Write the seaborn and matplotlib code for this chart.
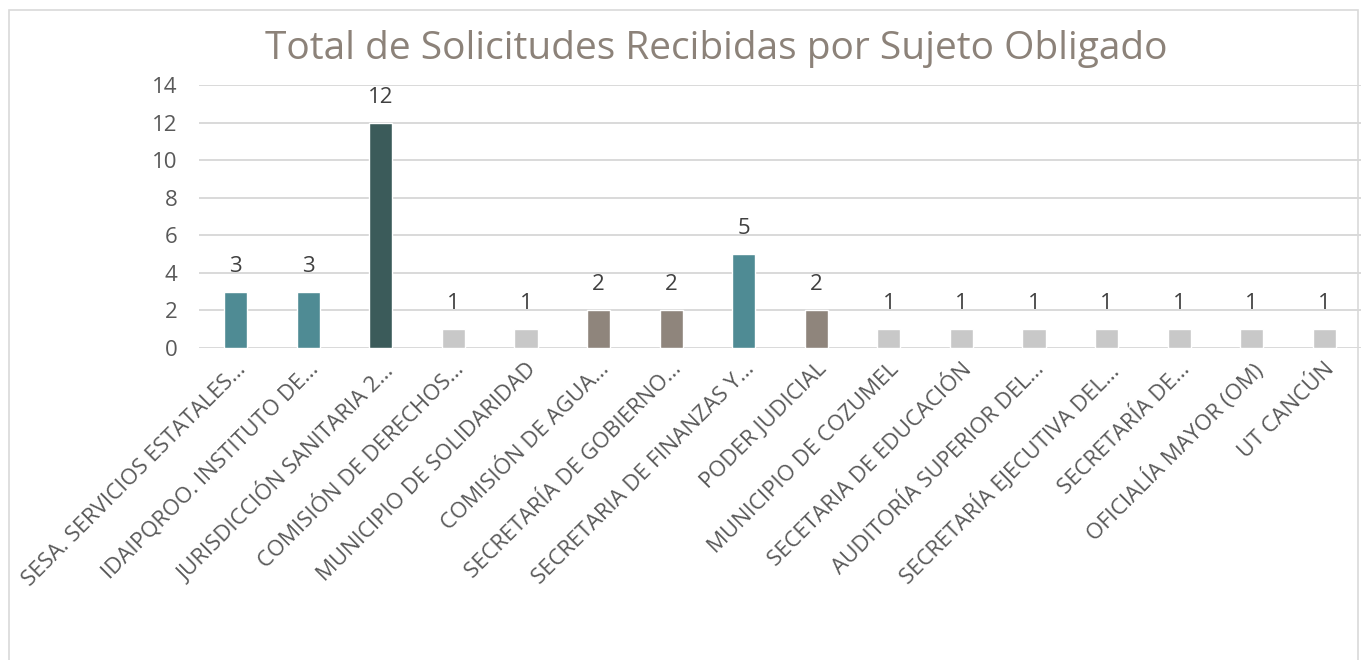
import numpy as np
import pandas as pd
import seaborn as sns
import matplotlib
matplotlib.use("Agg")
import matplotlib.pyplot as plt
from matplotlib.patches import Rectangle

sujetos = [
    "SESA. SERVICIOS ESTATALES…",
    "IDAIPQROO. INSTITUTO DE…",
    "JURISDICCIÓN SANITARIA 2…",
    "COMISIÓN DE DERECHOS…",
    "MUNICIPIO DE SOLIDARIDAD",
    "COMISIÓN DE AGUA…",
    "SECRETARÍA DE GOBIERNO…",
    "SECRETARIA DE FINANZAS Y…",
    "PODER JUDICIAL",
    "MUNICIPIO DE COZUMEL",
    "SECETARIA DE EDUCACIÓN",
    "AUDITORÍA SUPERIOR DEL…",
    "SECRETARÍA EJECUTIVA DEL…",
    "SECRETARÍA DE…",
    "OFICIALÍA MAYOR (OM)",
    "UT CANCÚN",
]
solicitudes = [3, 3, 12, 1, 1, 2, 2, 5, 2, 1, 1, 1, 1, 1, 1, 1]
colores = ["#4F8B94", "#4F8B94", "#3B5B5A", "#C8C8C8", "#C8C8C8", "#8F857C",
           "#8F857C", "#4F8B94", "#8F857C", "#C8C8C8", "#C8C8C8", "#C8C8C8",
           "#C8C8C8", "#C8C8C8", "#C8C8C8", "#C8C8C8"]

df = pd.DataFrame({"sujeto": sujetos, "total": solicitudes})

sns.set_style("white")
plt.rcParams["font.family"] = ["Open Sans", "DejaVu Sans"]

fig = plt.figure(figsize=(13.66, 6.6), dpi=100)
ax = fig.add_axes([0.146, 0.473, 0.85, 0.398])

sns.barplot(data=df, x="sujeto", y="total", hue="sujeto", palette=colores,
            legend=False, width=0.32, ax=ax, saturation=1)

for i, v in enumerate(solicitudes):
    ax.text(i, v + 0.8, str(v), ha="center", va="bottom", fontsize=16, color="#404040")

ax.set_ylim(0, 14)
ax.set_xlim(-0.5, len(sujetos) - 0.5)
ax.set_yticks(range(0, 15, 2))
ax.yaxis.grid(True, color="#D9D9D9", linewidth=1.4)
ax.set_axisbelow(True)
for s in ax.spines.values():
    s.set_visible(False)
ax.tick_params(axis="y", labelsize=16, labelcolor="#595959", length=0, pad=16)
ax.tick_params(axis="x", labelsize=16, labelcolor="#595959", length=0, pad=8)
plt.setp(ax.get_xticklabels(), rotation=45, ha="right", rotation_mode="anchor")
ax.set_xlabel("")
ax.set_ylabel("")

fig.text(0.524, 0.926, "Total de Solicitudes Recibidas por Sujeto Obligado",
         ha="center", va="center", fontsize=28, color="#8C8279")

fig.patches.append(Rectangle((9 / 1366, -0.01), 1349 / 1366, 0.995,
                             transform=fig.transFigure, fill=False,
                             edgecolor="#D9D9D9", linewidth=1.2))

fig.savefig("out.png", dpi=100)
